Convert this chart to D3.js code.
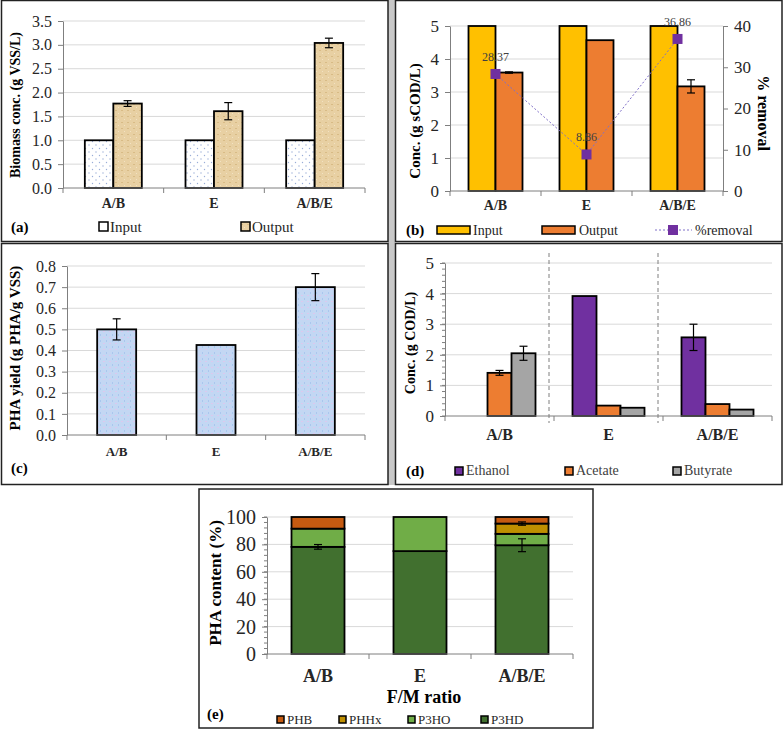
<!DOCTYPE html>
<html>
<head>
<meta charset="utf-8">
<script src="https://cdn.jsdelivr.net/npm/d3@7"></script>
<style>
  body { margin: 0; background: #fff; }
  svg { display: block; }
  svg text { font-family: "Liberation Serif", "Times New Roman", serif; }
</style>
</head>
<body>
<svg id="fig" width="784" height="730"></svg>
<script>
const cats = ["A/B", "E", "A/B/E"];

// (a) biomass
const biomassInput = [1.0, 1.0, 1.0];
const biomassOutput = [1.77, 1.61, 3.04];
const biomassOutputErr = [0.06, 0.18, 0.10];
const aTicks = [0, 0.5, 1, 1.5, 2, 2.5, 3, 3.5];

// (b) sCOD
const codInput = [5, 5, 5];
const codOutput = [3.59, 4.57, 3.17];
const codOutputErr = [0.02, 0, 0.20];
const removal = [28.37, 8.86, 36.86];
const bTicks = [0, 1, 2, 3, 4, 5];
const bTicksRight = [0, 10, 20, 30, 40];

// (c) PHA yield
const phaYield = [0.50, 0.426, 0.70];
const phaYieldErr = [0.05, 0, 0.064];
const cTicks = [0, 0.1, 0.2, 0.3, 0.4, 0.5, 0.6, 0.7, 0.8];

// (d) acids / ethanol
const ethanol = [0, 3.92, 2.57];
const ethanolErr = [0, 0, 0.43];
const acetate = [1.41, 0.34, 0.39];
const acetateErr = [0.08, 0, 0];
const butyrate = [2.05, 0.27, 0.21];
const butyrateErr = [0.23, 0, 0];
const dTicks = [0, 1, 2, 3, 4, 5];

// (e) PHA composition
const p3hd = [78.2, 75.1, 79.4];
const p3hdErr = [1.7, 0, 4.7];
const p3ho = [13.3, 24.9, 8.3];
const phhx = [0, 0, 7.5];
const phhxErr = [0, 0, 1.2];
const phb = [8.5, 0, 4.8];
const eTicks = [0, 20, 40, 60, 80, 100];

const serif = "Liberation Serif";
const svg = d3.select("#fig").attr("font-family", serif);

svg.append("rect").attr("width", 784).attr("height", 730).attr("fill", "#fff");

// ---- patterns
const defs = svg.append("defs");
const dots = defs.append("pattern").attr("id", "dots").attr("patternUnits", "userSpaceOnUse")
  .attr("width", 7).attr("height", 7);
dots.append("rect").attr("width", 7).attr("height", 7).attr("fill", "#fff");
dots.append("circle").attr("cx", 1.5).attr("cy", 1.5).attr("r", 0.7).attr("fill", "#9aaed8");
dots.append("circle").attr("cx", 5).attr("cy", 5).attr("r", 0.7).attr("fill", "#9aaed8");

const tan = defs.append("pattern").attr("id", "tan").attr("patternUnits", "userSpaceOnUse")
  .attr("width", 6).attr("height", 6);
tan.append("rect").attr("width", 6).attr("height", 6).attr("fill", "#e8d0a3");
tan.append("rect").attr("x", 1).attr("y", 2).attr("width", 2).attr("height", 1).attr("fill", "#d8bb86");
tan.append("rect").attr("x", 4).attr("y", 5).attr("width", 1).attr("height", 1).attr("fill", "#f2e2c2");

const blue = defs.append("pattern").attr("id", "blue").attr("patternUnits", "userSpaceOnUse")
  .attr("width", 6).attr("height", 6);
blue.append("rect").attr("width", 6).attr("height", 6).attr("fill", "#c3d7f3");
blue.append("rect").attr("x", 1).attr("y", 1).attr("width", 2).attr("height", 1).attr("fill", "#dcc8ee");
blue.append("rect").attr("x", 4).attr("y", 4).attr("width", 1).attr("height", 2).attr("fill", "#a9c7ee");

// ---- panel frames
svg.append("rect").attr("x", 388).attr("y", 0).attr("width", 7).attr("height", 485).attr("fill", "#c8c8c8");
const frame = (x, y, w, h) => svg.append("rect").attr("x", x).attr("y", y).attr("width", w).attr("height", h)
  .attr("fill", "none").attr("stroke", "#222").attr("stroke-width", 1.5);
frame(1.5, 0.5, 386.5, 241);
frame(395.5, 0.5, 386.5, 241);
frame(1.5, 243.5, 386.5, 241);
frame(395.5, 243.5, 386.5, 241);
frame(199, 489, 394, 239);

// ---- helpers
function grid(y, ticks, x0, x1) {
  svg.append("g").selectAll("line").data(ticks.filter(t => t !== 0)).join("line")
    .attr("x1", x0).attr("x2", x1).attr("y1", d => y(d)).attr("y2", d => y(d))
    .attr("stroke", "#d9d9d9").attr("stroke-width", 1);
}

function yAxis(y, xPos, ticks, fmt, size, right, minor) {
  const ax = (right ? d3.axisRight(y) : d3.axisLeft(y))
    .tickValues(ticks).tickFormat(fmt).tickSize(5).tickSizeOuter(0).tickPadding(6);
  const g = svg.append("g").attr("transform", `translate(${xPos},0)`).call(ax)
    .attr("font-family", serif).attr("font-size", size);
  g.select(".domain").attr("stroke", "#7f7f7f");
  g.selectAll(".tick line").attr("stroke", "#7f7f7f");
  g.selectAll(".tick text").attr("fill", "#262626");
  if (minor) {
    g.append("g").selectAll("line").data(minor).join("line")
      .attr("x1", 0).attr("x2", right ? 3 : -3).attr("y1", d => y(d)).attr("y2", d => y(d))
      .attr("stroke", "#7f7f7f");
  }
}

function xAxis(xb, yPos, labelY, size) {
  const [r0, r1] = xb.range();
  const g = svg.append("g");
  g.append("line").attr("x1", r0).attr("x2", r1).attr("y1", yPos).attr("y2", yPos)
    .attr("stroke", "#7f7f7f");
  const bounds = [r0].concat(cats.map(c => xb(c) + xb.step()));
  g.selectAll("line.tk").data(bounds).join("line").attr("class", "tk")
    .attr("x1", d => d).attr("x2", d => d).attr("y1", yPos).attr("y2", yPos + 5)
    .attr("stroke", "#7f7f7f");
  g.selectAll("text").data(cats).join("text")
    .attr("x", d => xb(d) + xb.bandwidth() / 2).attr("y", labelY)
    .attr("text-anchor", "middle").attr("font-weight", "bold").attr("font-size", size)
    .attr("fill", "#262626").text(d => d);
}

function yTitle(text, x, y, size, rot) {
  svg.append("text").attr("transform", `translate(${x},${y}) rotate(${rot || -90})`)
    .attr("text-anchor", "middle").attr("dominant-baseline", "central")
    .attr("font-weight", "bold").attr("font-size", size).attr("fill", "#000").text(text);
}

function errBar(cx, v, e, y, cap) {
  if (!e) return;
  const g = svg.append("g").attr("stroke", "#000").attr("stroke-width", 1.2);
  g.append("line").attr("x1", cx).attr("x2", cx).attr("y1", y(v + e)).attr("y2", y(v - e));
  g.append("line").attr("x1", cx - cap).attr("x2", cx + cap).attr("y1", y(v + e)).attr("y2", y(v + e));
  g.append("line").attr("x1", cx - cap).attr("x2", cx + cap).attr("y1", y(v - e)).attr("y2", y(v - e));
}

function groupedBars(xb, y, groupW, series) {
  const xs = d3.scaleBand().domain(series.map(s => s.name)).range([0, groupW]);
  const off = (xb.step() - groupW) / 2;
  series.forEach(s => {
    svg.append("g").selectAll("rect").data(cats).join("rect")
      .attr("x", d => xb(d) + off + xs(s.name))
      .attr("y", (d, i) => y(s.values[i]))
      .attr("width", xs.bandwidth())
      .attr("height", (d, i) => y(0) - y(s.values[i]))
      .attr("fill", s.fill).attr("stroke", "#000").attr("stroke-width", 1.8)
      .style("display", (d, i) => s.values[i] > 0 ? null : "none");
    if (s.err) cats.forEach((c, i) =>
      errBar(xb(c) + off + xs(s.name) + xs.bandwidth() / 2, s.values[i], s.err[i], y, 4));
  });
}

function label(text, x, y, size, bold, fill) {
  svg.append("text").attr("x", x).attr("y", y).attr("font-size", size)
    .attr("font-weight", bold ? "bold" : null).attr("fill", fill || "#000").text(text);
}

function swatch(x, y, w, h, fill) {
  svg.append("rect").attr("x", x).attr("y", y).attr("width", w).attr("height", h)
    .attr("fill", fill).attr("stroke", "#000").attr("stroke-width", 1.5);
}

// ================= (a)
{
  const xb = d3.scaleBand().domain(cats).range([63, 365]);
  const y = d3.scaleLinear().domain([0, 3.5]).range([188, 21]);
  grid(y, aTicks, 63, 365);
  groupedBars(xb, y, 57, [
    { name: "Input", values: biomassInput, fill: "url(#dots)" },
    { name: "Output", values: biomassOutput, fill: "url(#tan)", err: biomassOutputErr }
  ]);
  yAxis(y, 63, aTicks, d3.format(".1f"), 16);
  xAxis(xb, 188, 208, 14);
  yTitle("Biomass conc. (g VSS/L)", 15, 105, 14);
  label("(a)", 11, 232, 15, true);
  swatch(99, 222, 9, 9, "#fff");
  label("Input", 110, 232, 15, false, "#262626");
  swatch(241, 222, 9, 9, "url(#tan)");
  label("Output", 252, 232, 15, false, "#262626");
}

// ================= (b)
{
  const xb = d3.scaleBand().domain(cats).range([450, 723]);
  const y = d3.scaleLinear().domain([0, 5]).range([191, 26]);
  const y2 = d3.scaleLinear().domain([0, 40]).range([191, 26]);
  grid(y, bTicks, 450, 723);
  groupedBars(xb, y, 54, [
    { name: "Input", values: codInput, fill: "#ffc000" },
    { name: "Output", values: codOutput, fill: "#ed7d31", err: codOutputErr }
  ]);
  yAxis(y, 450, bTicks, d3.format("d"), 17);
  yAxis(y2, 723, bTicksRight, d3.format("d"), 17, true);
  xAxis(xb, 191, 210, 14);

  const cx = c => xb(c) + xb.bandwidth() / 2;
  const line = d3.line().x((d, i) => cx(cats[i])).y(d => y2(d));
  svg.append("path").attr("d", line(removal)).attr("fill", "none")
    .attr("stroke", "#8070c8").attr("stroke-width", 1).attr("stroke-dasharray", "2,2");
  svg.append("g").selectAll("rect").data(removal).join("rect")
    .attr("x", (d, i) => cx(cats[i]) - 5).attr("y", d => y2(d) - 5)
    .attr("width", 10).attr("height", 10).attr("fill", "#7030a0");
  svg.append("g").selectAll("text").data(removal).join("text")
    .attr("x", (d, i) => cx(cats[i])).attr("y", d => y2(d) - 13)
    .attr("text-anchor", "middle").attr("font-size", 12).attr("fill", "#404040")
    .text(d => d.toFixed(2));

  yTitle("Conc. (g sCOD/L)", 415, 121, 15);
  yTitle("% removal", 763, 113, 16, 90);
  label("(b)", 406, 235, 15, true);
  swatch(437, 226, 33, 8, "#ffc000");
  label("Input", 473, 235, 14, false, "#262626");
  swatch(542, 226, 33, 8, "#ed7d31");
  label("Output", 579, 235, 14, false, "#262626");
  svg.append("line").attr("x1", 655).attr("x2", 692).attr("y1", 230).attr("y2", 230)
    .attr("stroke", "#8070c8").attr("stroke-dasharray", "2,2");
  svg.append("rect").attr("x", 668).attr("y", 225).attr("width", 10).attr("height", 10).attr("fill", "#7030a0");
  label("%removal", 695, 235, 14, false, "#262626");
}

// ================= (c)
{
  const xb = d3.scaleBand().domain(cats).range([67, 365]);
  const y = d3.scaleLinear().domain([0, 0.8]).range([435, 266]);
  grid(y, cTicks, 67, 365);
  groupedBars(xb, y, 39, [
    { name: "Yield", values: phaYield, fill: "url(#blue)", err: phaYieldErr }
  ]);
  yAxis(y, 67, cTicks, d3.format(".1f"), 16);
  xAxis(xb, 435, 456, 13);
  yTitle("PHA yield (g PHA/g VSS)", 15, 348, 15);
  label("(c)", 11, 473, 15, true);
}

// ================= (d)
{
  const xb = d3.scaleBand().domain(cats).range([445, 772]);
  const y = d3.scaleLinear().domain([0, 5]).range([416, 263]);
  grid(y, dTicks, 445, 772);
  // dashed separators between groups
  svg.append("g").selectAll("line").data(cats.slice(1)).join("line")
    .attr("x1", d => xb(d) - 5).attr("x2", d => xb(d) - 5).attr("y1", 253).attr("y2", 423)
    .attr("stroke", "#7f7f7f").attr("stroke-dasharray", "4,3");
  groupedBars(xb, y, 72, [
    { name: "Ethanol", values: ethanol, fill: "#7030a0", err: ethanolErr },
    { name: "Acetate", values: acetate, fill: "#ed7d31", err: acetateErr },
    { name: "Butyrate", values: butyrate, fill: "#a5a5a5", err: butyrateErr }
  ]);
  yAxis(y, 445, dTicks, d3.format("d"), 17, false, d3.range(0, 5.01, 0.2));
  xAxis(xb, 416, 440, 16);
  yTitle("Conc. (g COD/L)", 410, 343, 14);
  label("(d)", 406, 476, 15, true);
  swatch(455, 467, 8, 8, "#7030a0");
  label("Ethanol", 466, 475, 14, false, "#404040");
  swatch(565, 467, 8, 8, "#ed7d31");
  label("Acetate", 576, 475, 14, false, "#404040");
  swatch(673, 467, 8, 8, "#a5a5a5");
  label("Butyrate", 684, 475, 14, false, "#404040");
}

// ================= (e)
{
  const xb = d3.scaleBand().domain(cats).range([267, 573]);
  const y = d3.scaleLinear().domain([0, 100]).range([654, 517]);
  grid(y, eTicks, 267, 573);
  const layers = [
    { name: "P3HD", values: p3hd, fill: "#41702f", err: p3hdErr },
    { name: "P3HO", values: p3ho, fill: "#70ad47" },
    { name: "PHHx", values: phhx, fill: "#bf8f00", err: phhxErr },
    { name: "PHB", values: phb, fill: "#c55a11" }
  ];
  const table = cats.map((c, i) => {
    const row = { cat: c };
    layers.forEach(l => row[l.name] = l.values[i]);
    return row;
  });
  const stack = d3.stack().keys(layers.map(l => l.name))(table);
  const bw = 53, off = (xb.step() - bw) / 2;
  stack.forEach((s, k) => {
    svg.append("g").selectAll("rect").data(s).join("rect")
      .attr("x", d => xb(d.data.cat) + off).attr("width", bw)
      .attr("y", d => y(d[1])).attr("height", d => y(d[0]) - y(d[1]))
      .attr("fill", layers[k].fill).attr("stroke", "#000").attr("stroke-width", 1.8)
      .style("display", d => d[1] - d[0] > 0 ? null : "none");
  });
  stack.forEach((s, k) => {
    const err = layers[k].err;
    if (err) s.forEach((d, i) => errBar(xb(d.data.cat) + off + bw / 2, d[1], err[i], y, 4));
  });
  yAxis(y, 267, eTicks, d3.format("d"), 20, false, d3.range(0, 100.1, 4));
  xAxis(xb, 654, 682, 18);
  svg.append("text").attr("x", 424).attr("y", 703).attr("text-anchor", "middle")
    .attr("font-weight", "bold").attr("font-size", 18).text("F/M ratio");
  yTitle("PHA content (%)", 215, 583, 17);
  label("(e)", 207, 719, 15, true);
  const leg = [["PHB", "#c55a11", 277], ["PHHx", "#bf8f00", 339], ["P3HO", "#70ad47", 408], ["P3HD", "#41702f", 481]];
  leg.forEach(([t, f, x]) => {
    swatch(x, 716, 7, 7, f);
    label(t, x + 10, 724, 13, false, "#262626");
  });
}
</script>
</body>
</html>
